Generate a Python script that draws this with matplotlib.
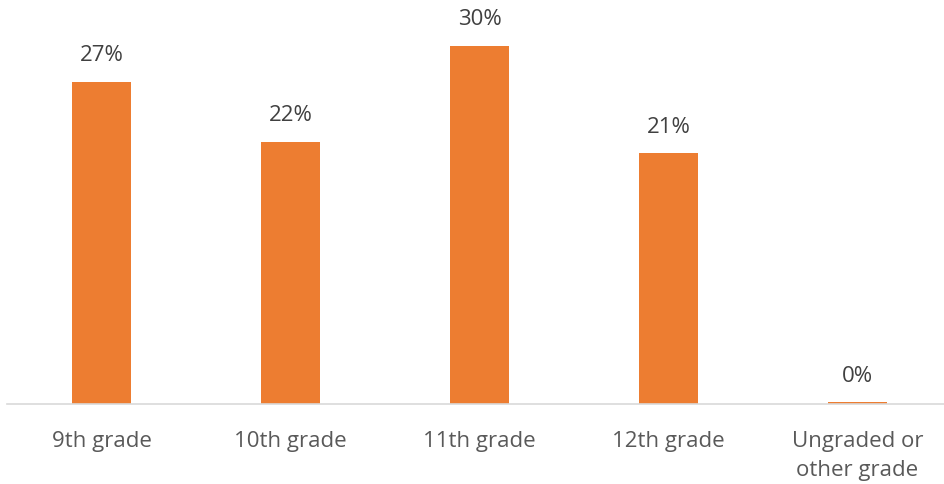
import matplotlib
matplotlib.use('Agg')
import matplotlib.pyplot as plt

categories = ['9th grade', '10th grade', '11th grade', '12th grade', 'Ungraded or\nother grade']
values = [27, 22, 30, 21, 0.15]
labels = ['27%', '22%', '30%', '21%', '0%']

plt.rcParams['font.family'] = ['Open Sans', 'DejaVu Sans']

fig = plt.figure(figsize=(9.44, 4.85), dpi=100)
ax = fig.add_axes([7 / 944, 80 / 485, 937 / 944, 400 / 485])

x = list(range(len(categories)))
ax.bar(x, values, width=0.31, color='#ED7D31')

for xi, v, lab in zip(x, values, labels):
    ax.annotate(lab, (xi, v), textcoords='offset points', xytext=(0, 12),
                ha='center', va='bottom', fontsize=16, color='#404040')

ax.set_xlim(-0.5, 4.458)
ax.set_ylim(0, 400 / 11.93)
ax.set_xticks(x)
ax.set_xticklabels(categories, fontsize=16, color='#595959', linespacing=1.45)
ax.tick_params(axis='x', length=0, pad=19)
ax.set_yticks([])
for s in ['top', 'right', 'left']:
    ax.spines[s].set_visible(False)
ax.spines['bottom'].set_color('#d9d9d9')
ax.spines['bottom'].set_linewidth(1.2)

fig.savefig('out.png', dpi=100)
